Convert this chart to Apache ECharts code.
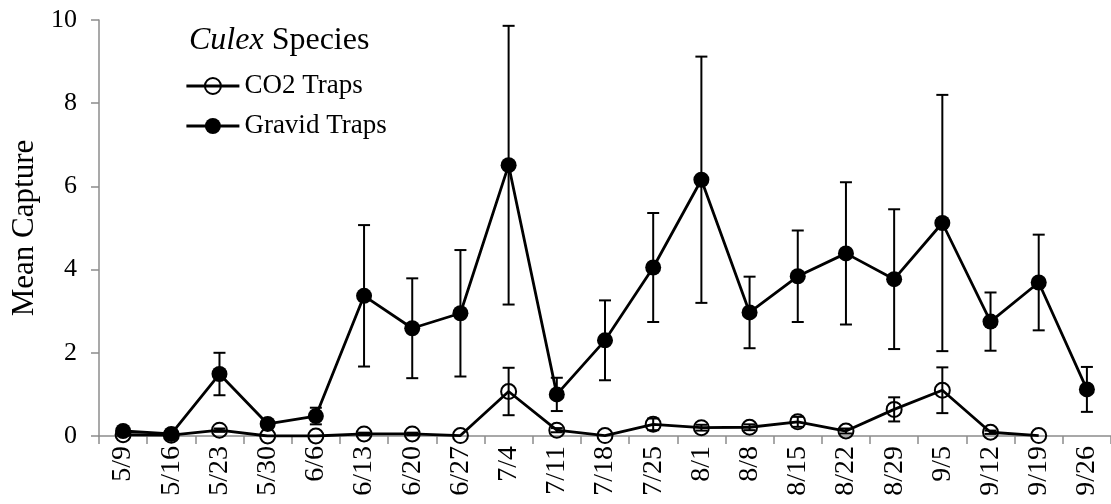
<!DOCTYPE html>
<html>
<head>
<meta charset="utf-8">
<title>Culex Species — Mean Capture</title>
<script src="https://cdn.jsdelivr.net/npm/echarts@6/dist/echarts.min.js"></script>
<style>
  html, body { margin: 0; padding: 0; background: #fff; }
  #chart { width: 1111px; height: 504px; }
</style>
</head>
<body>
<div id="chart"></div>
<script>
// Sampling dates (weekly)
const dates = ['5/9', '5/16', '5/23', '5/30', '6/6', '6/13', '6/20', '6/27', '7/4', '7/11',
  '7/18', '7/25', '8/1', '8/8', '8/15', '8/22', '8/29', '9/5', '9/12', '9/19', '9/26'];

// Mean capture per trap and standard error
const co2Mean = [0.03, 0.02, 0.14, 0.00, 0.00, 0.05, 0.05, 0.01, 1.07, 0.14,
  0.01, 0.28, 0.20, 0.21, 0.34, 0.12, 0.64, 1.10, 0.09, 0.01, null];
const co2SE = [0, 0, 0.04, 0, 0, 0.03, 0.03, 0, 0.57, 0.05,
  0, 0.14, 0.07, 0.07, 0.12, 0.06, 0.29, 0.55, 0.04, 0, null];

const gravidMean = [0.12, 0.05, 1.49, 0.29, 0.48, 3.37, 2.59, 2.95, 6.51, 1.00,
  2.30, 4.05, 6.16, 2.97, 3.84, 4.39, 3.77, 5.12, 2.75, 3.69, 1.12];
const gravidSE = [0.03, 0.02, 0.51, 0.05, 0.20, 1.70, 1.20, 1.52, 3.35, 0.40,
  0.96, 1.31, 2.96, 0.86, 1.10, 1.71, 1.68, 3.08, 0.70, 1.15, 0.54];

const yTicks = { min: 0, max: 10, interval: 2 };

const FONT = '"Liberation Serif", "Times New Roman", serif';
const AXIS_GREY = '#8c8c8c';

function errorData(means, ses) {
  const out = [];
  means.forEach((m, i) => {
    if (m !== null && ses[i]) out.push([i, m, ses[i]]);
  });
  return out;
}

function renderErrorBar(params, api) {
  const i = api.value(0), m = api.value(1), e = api.value(2);
  const hi = api.coord([i, m + e]);
  const lo = api.coord([i, m - e]);
  const cap = 6;
  const style = { stroke: '#000', lineWidth: 2 };
  return {
    type: 'group',
    children: [
      { type: 'line', shape: { x1: hi[0], y1: hi[1], x2: lo[0], y2: lo[1] }, style },
      { type: 'line', shape: { x1: hi[0] - cap, y1: hi[1], x2: hi[0] + cap, y2: hi[1] }, style },
      { type: 'line', shape: { x1: lo[0] - cap, y1: lo[1], x2: lo[0] + cap, y2: lo[1] }, style }
    ]
  };
}

const chart = echarts.init(document.getElementById('chart'), null, { renderer: 'canvas' });

chart.setOption({
  animation: false,
  backgroundColor: '#fff',
  textStyle: { fontFamily: FONT, color: '#000' },
  title: {
    text: '{i|Culex} Species',
    left: 184,
    top: 20,
    textStyle: {
      fontFamily: FONT,
      fontSize: 32,
      fontWeight: 'normal',
      color: '#000',
      rich: {
        i: { fontFamily: FONT, fontSize: 32, fontStyle: 'italic', color: '#000' }
      }
    }
  },
  legend: {
    orient: 'vertical',
    left: 180,
    top: 67,
    itemWidth: 53,
    itemHeight: 20,
    itemGap: 12,
    data: ['CO2 Traps', 'Gravid Traps'],
    lineStyle: { width: 2.8, color: '#000' },
    textStyle: { fontFamily: FONT, fontSize: 27, color: '#000', lineHeight: 28 }
  },
  grid: { left: 99, right: 0, top: 20, bottom: 68, containLabel: false },
  xAxis: {
    type: 'category',
    data: dates,
    boundaryGap: true,
    axisLine: { lineStyle: { color: AXIS_GREY, width: 1.5 } },
    axisTick: { show: true, length: 8, lineStyle: { color: AXIS_GREY, width: 1.5 } },
    axisLabel: {
      rotate: 90,
      interval: 0,
      margin: 10,
      fontFamily: FONT,
      fontSize: 28,
      color: '#000'
    },
    splitLine: { show: false }
  },
  yAxis: {
    type: 'value',
    min: yTicks.min,
    max: yTicks.max,
    interval: yTicks.interval,
    name: 'Mean Capture',
    nameLocation: 'middle',
    nameGap: 57,
    nameRotate: 90,
    nameTextStyle: { fontFamily: FONT, fontSize: 31, color: '#000' },
    axisLine: { show: true, lineStyle: { color: AXIS_GREY, width: 1.5 } },
    axisTick: { show: true, length: 8, lineStyle: { color: AXIS_GREY, width: 1.5 } },
    axisLabel: { margin: 22, fontFamily: FONT, fontSize: 26, color: '#000' },
    splitLine: { show: false }
  },
  series: [
    {
      name: 'CO2 Traps',
      type: 'line',
      data: co2Mean,
      z: 2,
      symbol: 'circle',
      symbolSize: 15,
      showAllSymbol: true,
      lineStyle: { color: '#000', width: 2.8 },
      itemStyle: { color: 'rgba(255,255,255,0)', borderColor: '#000', borderWidth: 2 }
    },
    {
      name: 'Gravid Traps',
      type: 'line',
      data: gravidMean,
      z: 3,
      symbol: 'circle',
      symbolSize: 16,
      showAllSymbol: true,
      lineStyle: { color: '#000', width: 2.8 },
      itemStyle: { color: '#000', borderColor: '#000', borderWidth: 0 }
    },
    {
      name: 'CO2 SE',
      type: 'custom',
      z: 4,
      renderItem: renderErrorBar,
      data: errorData(co2Mean, co2SE),
      encode: { x: 0, y: 1 }
    },
    {
      name: 'Gravid SE',
      type: 'custom',
      z: 4,
      renderItem: renderErrorBar,
      data: errorData(gravidMean, gravidSE),
      encode: { x: 0, y: 1 }
    }
  ]
});
</script>
</body>
</html>
